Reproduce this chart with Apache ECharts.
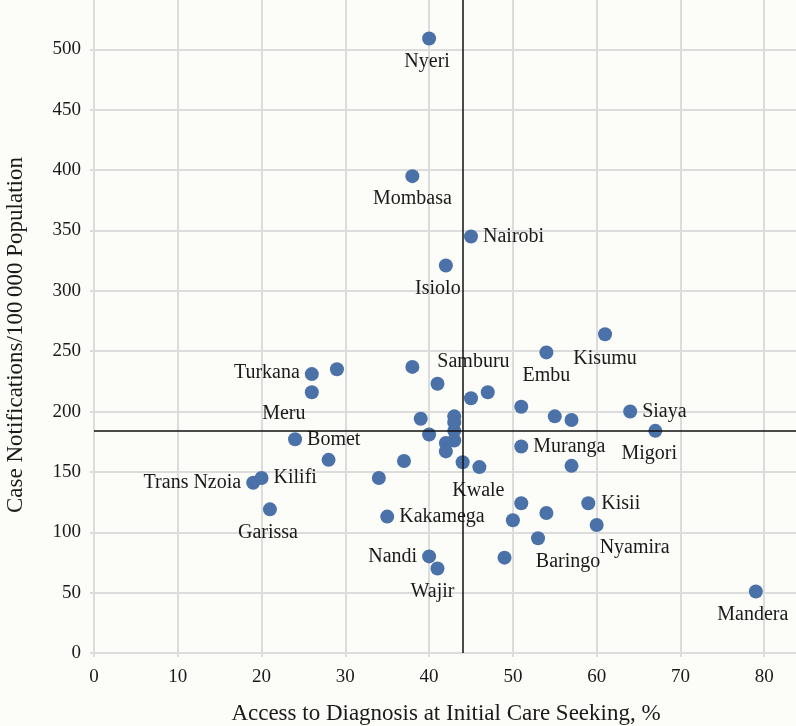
<!DOCTYPE html>
<html>
<head>
<meta charset="utf-8">
<script src="https://cdn.jsdelivr.net/npm/echarts@6/dist/echarts.min.js"></script>
<style>
html,body{margin:0;padding:0;background:#fcfcf8;}
#chart{width:796px;height:726px;}
</style>
</head>
<body>
<div id="chart"></div>
<script>
// ---- data ----
const names = ["Nyeri","Mombasa","Nairobi","Isiolo","Kisumu","Embu","Samburu","","","","","Siaya","Migori","Muranga","","Kisii","Nyamira","Mandera","","Kwale","","","","Baringo","","Wajir","Nandi","","","","","","","","","","","","","Kakamega","Turkana","","Meru","Bomet","","Kilifi","Trans Nzoia","Garissa"];
const access = [40,38,45,42,61,54,38,47,51,55,57,64,67,51,57,59,60,79,44,46,51,54,50,53,49,41,40,41,45,39,43,43,43,43,42,42,40,37,34,35,26,29,26,24,28,20,19,21];
const notifications = [509,395,345,321,264,249,237,216,204,196,193,200,184,171,155,124,106,51,158,154,124,116,110,95,79,70,80,223,211,194,196,191,184,176,174,167,181,159,145,113,231,235,216,177,160,145,141,119];
const refAccess = 44;
const refNotifications = 184;
const xTicks = [0,10,20,30,40,50,60,70,80];
const yTicks = [0,50,100,150,200,250,300,350,400,450,500];
const xTitle = "Access to Diagnosis at Initial Care Seeking, %";
const yTitle = "Case Notifications/100\u2009000 Population";

// ---- label placement (style only) ----
const placement = {
  Nyeri:{position:"bottom",offset:[-2,1]},
  Mombasa:{position:"bottom",offset:[0,1]},
  Nairobi:{position:"right",offset:[0,0]},
  Isiolo:{position:"bottom",offset:[-8,1]},
  Kisumu:{position:"bottom",offset:[0,2]},
  Embu:{position:"bottom",offset:[0,1]},
  Samburu:{position:"right",distance:18,offset:[0,-5]},
  Siaya:{position:"right",offset:[0,0]},
  Migori:{position:"bottom",offset:[-6,1]},
  Muranga:{position:"right",offset:[0,0]},
  Kisii:{position:"right",offset:[1,0]},
  Nyamira:{position:"bottom",offset:[38,1]},
  Mandera:{position:"bottom",offset:[-3,1]},
  Kwale:{position:"bottom",offset:[-1,2]},
  Baringo:{position:"bottom",offset:[30,1]},
  Wajir:{position:"bottom",offset:[-5,1]},
  Nandi:{position:"left",offset:[0,0]},
  Kakamega:{position:"right",offset:[0,0]},
  Turkana:{position:"left",offset:[0,-1]},
  Meru:{position:"bottom",offset:[-28,0]},
  Bomet:{position:"right",offset:[0,0]},
  Kilifi:{position:"right",offset:[0,0]},
  "Trans Nzoia":{position:"left",offset:[0,0]},
  Garissa:{position:"bottom",offset:[-2,1]}
};

const FONT = "'Liberation Serif','DejaVu Serif',serif";
const points = access.map((x,i)=>{
  const item = {name:names[i], value:[x, notifications[i]]};
  if (names[i] && placement[names[i]]) {
    const p = placement[names[i]];
    item.label = Object.assign({show:true, formatter:names[i], distance:5}, p);
  }
  return item;
});

const chart = echarts.init(document.getElementById('chart'), null, {renderer:'canvas'});
const grey = '#dcdcdc';
chart.setOption({
  backgroundColor:'#fcfcf8',
  animation:false,
  grid:{left:94, right:-52, top:-11, bottom:73, containLabel:false, outerBoundsMode:'none'},
  xAxis:{
    type:'value', min:0, max:90, interval:10,
    axisLine:{show:true, lineStyle:{color:grey, width:2}},
    axisTick:{show:true, length:4, lineStyle:{color:grey, width:2}},
    splitLine:{show:true, lineStyle:{color:grey, width:2}},
    axisLabel:{color:'#1a1a1a', fontFamily:FONT, fontSize:19, margin:15,
      formatter:v=>xTicks.includes(v)?String(v):''},
    name:xTitle, nameLocation:'middle', nameGap:49,
    nameTextStyle:{color:'#1a1a1a', fontFamily:FONT, fontSize:23, padding:[0,50,0,0]}
  },
  yAxis:{
    type:'value', min:0, max:550, interval:50,
    axisLine:{show:true, lineStyle:{color:grey, width:2}},
    axisTick:{show:true, length:4, lineStyle:{color:grey, width:2}},
    splitLine:{show:true, lineStyle:{color:grey, width:2}},
    axisLabel:{color:'#1a1a1a', fontFamily:FONT, fontSize:19, margin:13,
      formatter:v=>yTicks.includes(v)?String(v):''},
    name:yTitle, nameLocation:'middle', nameGap:67,
    nameTextStyle:{color:'#1a1a1a', fontFamily:FONT, fontSize:23, padding:[0,28,0,0]}
  },
  series:[{
    type:'scatter',
    symbolSize:14,
    itemStyle:{color:'#4a71a8', opacity:1},
    label:{show:false, color:'#1a1a1a', fontFamily:FONT, fontSize:20},
    data:points,
    z:3,
    markLine:{
      silent:true, symbol:['none','none'], animation:false,
      label:{show:false},
      lineStyle:{color:'#111', width:1.5, type:'solid'},
      data:[{xAxis:refAccess},{yAxis:refNotifications}]
    }
  }]
});
</script>
</body>
</html>
